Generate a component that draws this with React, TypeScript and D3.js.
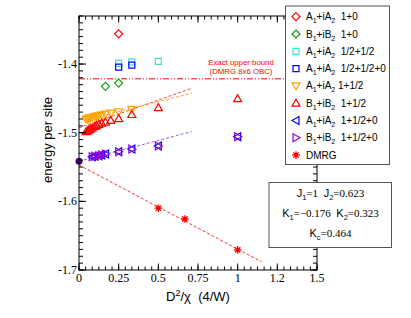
import React from "react";
import * as d3 from "d3";

// ---- data ----
const redDiamondX = [0.25];
const redDiamondY = [-1.356];
const greenDiamondX = [0.1667, 0.25];
const greenDiamondY = [-1.4325, -1.4277];
const cyanSquareX = [0.25, 0.333, 0.5];
const cyanSquareY = [-1.399, -1.3967, -1.396];
const blueSquareX = [0.25, 0.333];
const blueSquareY = [-1.4044, -1.4015];
const orangeTriX = [0.045, 0.055, 0.0625, 0.0714, 0.0833, 0.1, 0.111, 0.125, 0.143, 0.167, 0.2, 0.25, 0.333];
const orangeTriY = [-1.4805, -1.4797, -1.479, -1.4782, -1.4775, -1.4765, -1.4758, -1.475, -1.474, -1.4728, -1.4715, -1.4695, -1.466];
const redTriX = [0.045, 0.055, 0.0625, 0.0714, 0.0833, 0.1, 0.111, 0.125, 0.143, 0.167, 0.2, 0.25, 0.333, 0.5, 1.0];
const redTriY = [-1.4985, -1.497, -1.4958, -1.4945, -1.493, -1.491, -1.4895, -1.488, -1.486, -1.4845, -1.482, -1.4795, -1.4735, -1.4635, -1.4505];
const blueLeftX = [0.0833, 0.1, 0.125, 0.143, 0.167, 0.25, 0.333, 0.5, 1.0];
const blueLeftY = [-1.535, -1.5343, -1.5335, -1.5325, -1.531, -1.5277, -1.5238, -1.5194, -1.5058];
const violetRightX = [0.0833, 0.1, 0.125, 0.143, 0.167, 0.25, 0.333, 0.5, 1.0];
const violetRightY = [-1.535, -1.5343, -1.5335, -1.5325, -1.531, -1.5277, -1.5238, -1.5194, -1.5058];
const dmrgX = [0.5, 0.667, 1.0];
const dmrgY = [-1.61, -1.6256, -1.6707];
const extrapX = [0];
const extrapY = [-1.5416];

// fit lines: [x0, y0, x1, y1]
const orangeFit = [0.03, -1.4815, 0.71, -1.4426];
const redFit = [0, -1.493, 0.71, -1.4354];
const purpleFit = [0, -1.5416, 0.71, -1.4985];
const dmrgFit = [0, -1.547, 1.15, -1.688];
const upperBound = -1.4215;

const xTicks = [0, 0.25, 0.5, 0.75, 1, 1.25, 1.5];
const xTickLabels = ["0", "0.25", "0.5", "0.75", "1", "1.2", "1.5"];
const yTicks = [-1.7, -1.6, -1.5, -1.4];
const yTickLabels = ["-1.7", "-1.6", "-1.5", "-1.4"];

const legendLabels = [
  ["A", "1", "+iA", "2", "  1+0"],
  ["B", "1", "+iB", "2", "  1+0"],
  ["A", "1", "+iA", "2", "  1/2+1/2"],
  ["A", "1", "+iA", "2", "  1/2+1/2+0"],
  ["A", "1", "+iA", "2", " 1+1/2"],
  ["B", "1", "+iB", "2", "  1+1/2"],
  ["A", "1", "+iA", "2", "  1+1/2+0"],
  ["B", "1", "+iB", "2", "  1+1/2+0"],
  ["DMRG"],
];

const RED = "#ff0000";
const GREEN = "#1a9a1a";
const CYAN = "#40e0d0";
const BLUE = "#0000ff";
const ORANGE = "#ffa500";
const VIOLET = "#9400d3";
const INDIGO = "#4b0082";

const legendMarkers = ["diamond", "diamond", "square", "square", "tdown", "tup", "tleft", "tright", "star"];
const legendColors = [RED, GREEN, CYAN, BLUE, ORANGE, RED, BLUE, VIOLET, RED];

// ---- layout ----
const W = 411, H = 318;
const L = 79, R = 317, T = 16, B = 270;
const x = d3.scaleLinear().domain([0, 1.5]).range([L, R]);
const y = d3.scaleLinear().domain([-1.7, -1.33]).range([B, T]);

function Marker({ type, cx, cy, color }: { type: string; cx: number; cy: number; color: string }) {
  const s = 3.6;
  let d = "";
  if (type === "diamond") d = `M${cx},${cy - 4}L${cx + 4},${cy}L${cx},${cy + 4}L${cx - 4},${cy}Z`;
  else if (type === "square") d = `M${cx - 3},${cy - 3}h6v6h-6Z`;
  else if (type === "tup") d = `M${cx},${cy - s - 0.4}L${cx + s + 0.4},${cy + s - 0.6}L${cx - s - 0.4},${cy + s - 0.6}Z`;
  else if (type === "tdown") d = `M${cx},${cy + s + 0.4}L${cx + s + 0.4},${cy - s + 0.6}L${cx - s - 0.4},${cy - s + 0.6}Z`;
  else if (type === "tleft") d = `M${cx - s - 0.4},${cy}L${cx + s - 0.6},${cy - s - 0.4}L${cx + s - 0.6},${cy + s + 0.4}Z`;
  else if (type === "tright") d = `M${cx + s + 0.4},${cy}L${cx - s + 0.6},${cy - s - 0.4}L${cx - s + 0.6},${cy + s + 0.4}Z`;
  if (type === "star") {
    const r = 3.8;
    const lines = [0, 45, 90, 135].map((a) => {
      const rad = (a * Math.PI) / 180;
      return `M${cx - r * Math.cos(rad)},${cy - r * Math.sin(rad)}L${cx + r * Math.cos(rad)},${cy + r * Math.sin(rad)}`;
    });
    return (
      <g>
        <path d={lines.join("")} stroke={color} strokeWidth={1.3} />
        <circle cx={cx} cy={cy} r={2} fill={color} />
      </g>
    );
  }
  return <path d={d} fill="none" stroke={color} strokeWidth={1.2} />;
}

function Series({ xs, ys, type, color }: { xs: number[]; ys: number[]; type: string; color: string }) {
  return (
    <g>
      {xs.map((v, i) => (
        <Marker key={i} type={type} cx={x(v)} cy={y(ys[i])} color={color} />
      ))}
    </g>
  );
}

function FitLine({ f, color, dash }: { f: number[]; color: string; dash: string }) {
  return <line x1={x(f[0])} y1={y(f[1])} x2={x(f[2])} y2={y(f[3])} stroke={color} strokeWidth={1} strokeDasharray={dash} />;
}

export default function App() {
  const xMinor = d3.range(0, 1.5 + 1e-9, 0.25 / 6);
  const yMinor = d3.range(-1.7, -1.33 + 1e-9, 0.01);
  const serif = "'Liberation Serif', 'Times New Roman', serif";
  const sans = "'Liberation Sans', Arial, sans-serif";

  return (
    <svg width={W} height={H} style={{ position: "absolute", left: 0, top: 0, background: "#fff" }}>
      <rect x={0} y={0} width={W} height={H} fill="#fff" />
      {/* fits */}
      <FitLine f={dmrgFit} color="#ff3030" dash="3,2" />
      <FitLine f={purpleFit} color="#9060e0" dash="3,2" />
      <FitLine f={redFit} color="#ff4040" dash="3,2" />
      <FitLine f={orangeFit} color="#ffa020" dash="3,2" />
      <line x1={x(0)} x2={x(1.5)} y1={y(upperBound)} y2={y(upperBound)} stroke={RED} strokeWidth={1} strokeDasharray="6,2,1,2,1,2" />
      <text x={241} y={64.8} fontFamily={sans} fontSize={7.8} fill={RED} textAnchor="middle">Exact upper bound</text>
      <text x={241} y={73.6} fontFamily={sans} fontSize={7.8} fill={RED} textAnchor="middle">(DMRG 8x6 OBC)</text>

      {/* data */}
      <Series xs={redDiamondX} ys={redDiamondY} type="diamond" color={RED} />
      <Series xs={greenDiamondX} ys={greenDiamondY} type="diamond" color={GREEN} />
      <Series xs={cyanSquareX} ys={cyanSquareY} type="square" color={CYAN} />
      <Series xs={blueSquareX} ys={blueSquareY} type="square" color={BLUE} />
      <Series xs={orangeTriX} ys={orangeTriY} type="tdown" color={ORANGE} />
      <Series xs={redTriX} ys={redTriY} type="tup" color={RED} />
      <Series xs={blueLeftX} ys={blueLeftY} type="tleft" color={BLUE} />
      <Series xs={violetRightX} ys={violetRightY} type="tright" color={VIOLET} />
      <Series xs={dmrgX} ys={dmrgY} type="star" color={RED} />
      {extrapX.map((v, i) => (
        <circle key={i} cx={x(v)} cy={y(extrapY[i])} r={3.5} fill={INDIGO} />
      ))}

      {/* frame */}
      <rect x={L} y={T} width={R - L} height={B - T} fill="none" stroke="#000" strokeWidth={1} />
      {xMinor.map((v, i) => (
        <g key={"xm" + i}>
          <line x1={x(v)} x2={x(v)} y1={B} y2={B - 3.5} stroke="#000" />
          <line x1={x(v)} x2={x(v)} y1={T} y2={T + 3.5} stroke="#000" />
        </g>
      ))}
      {xTicks.map((v, i) => (
        <g key={"xt" + i}>
          <line x1={x(v)} x2={x(v)} y1={B} y2={B - 6.5} stroke="#000" />
          <line x1={x(v)} x2={x(v)} y1={T} y2={T + 6.5} stroke="#000" />
          <text x={x(v)} y={B + 12} fontFamily={serif} fontSize={12} textAnchor="middle">{xTickLabels[i]}</text>
        </g>
      ))}
      {yMinor.map((v, i) => (
        <g key={"ym" + i}>
          <line x1={L} x2={L + 4} y1={y(v)} y2={y(v)} stroke="#000" />
          <line x1={R} x2={R - 4} y1={y(v)} y2={y(v)} stroke="#000" />
        </g>
      ))}
      {yTicks.map((v, i) => (
        <g key={"yt" + i}>
          <line x1={L} x2={L + 7} y1={y(v)} y2={y(v)} stroke="#000" />
          <line x1={R} x2={R - 7} y1={y(v)} y2={y(v)} stroke="#000" />
          <text x={L - 2} y={y(v) + 4} fontFamily={serif} fontSize={12} textAnchor="end">{yTickLabels[i]}</text>
        </g>
      ))}

      {/* axis titles */}
      <text transform="translate(52,140) rotate(-90)" fontFamily={sans} fontSize={13} textAnchor="middle">energy per site</text>
      <text x={198} y={301} fontFamily={sans} fontSize={13} textAnchor="middle" style={{ whiteSpace: "pre" }}>
        D<tspan dy={-5} fontSize={9}>2</tspan><tspan dy={5}>/χ  (4/W)</tspan>
      </text>

      {/* legend */}
      <rect x={285.5} y={6} width={104} height={158.5} fill="#fff" stroke="#555" strokeWidth={1} />
      {legendLabels.map((lab, i) => {
        const cy = 16.7 + i * 17.3;
        return (
          <g key={"lg" + i}>
            <Marker type={legendMarkers[i]} cx={296} cy={cy} color={legendColors[i]} />
            <text x={306} y={cy + 3.5} fontFamily={sans} fontSize={10} style={{ whiteSpace: "pre" }}>
              {lab.length === 1 ? (
                lab[0]
              ) : (
                <>
                  {lab[0]}
                  <tspan dy={3} fontSize={7}>{lab[1]}</tspan>
                  <tspan dy={-3}>{lab[2]}</tspan>
                  <tspan dy={3} fontSize={7}>{lab[3]}</tspan>
                  <tspan dy={-3}>{lab[4]}</tspan>
                </>
              )}
            </text>
          </g>
        );
      })}

      {/* parameter box */}
      <rect x={269} y={182.5} width={122.5} height={65} fill="#fff" stroke="#555" strokeWidth={1} />
      <text x={330.5} y={197} fontSize={11} textAnchor="middle" style={{ whiteSpace: "pre" }}>
        <tspan fontFamily={sans}>J</tspan><tspan fontFamily={sans} dy={3} fontSize={7.5}>1</tspan>
        <tspan fontFamily={serif} dy={-3}>=1  </tspan>
        <tspan fontFamily={sans}>J</tspan><tspan fontFamily={sans} dy={3} fontSize={7.5}>2</tspan>
        <tspan fontFamily={serif} dy={-3}>=0.623</tspan>
      </text>
      <text x={330.5} y={216.5} fontSize={11} textAnchor="middle" style={{ whiteSpace: "pre" }}>
        <tspan fontFamily={sans}>K</tspan><tspan fontFamily={sans} dy={3} fontSize={7.5}>1</tspan>
        <tspan fontFamily={serif} dy={-3}>=−0.176  </tspan>
        <tspan fontFamily={sans}>K</tspan><tspan fontFamily={sans} dy={3} fontSize={7.5}>2</tspan>
        <tspan fontFamily={serif} dy={-3}>=0.323</tspan>
      </text>
      <text x={330.5} y={237} fontSize={11} textAnchor="middle" style={{ whiteSpace: "pre" }}>
        <tspan fontFamily={sans}>K</tspan><tspan fontFamily={sans} dy={3} fontSize={7.5}>c</tspan>
        <tspan fontFamily={serif} dy={-3}>=0.464</tspan>
      </text>
    </svg>
  );
}
